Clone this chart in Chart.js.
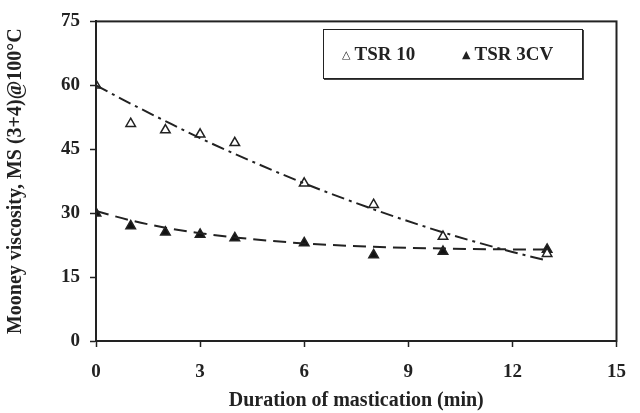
<!DOCTYPE html>
<html>
<head>
<meta charset="utf-8">
<script src="https://cdn.jsdelivr.net/npm/chart.js@4/dist/chart.umd.min.js"></script>
<style>
  html, body { margin: 0; padding: 0; background: #fff; }
  #wrap { position: relative; width: 640px; height: 413px; }
  #legend {
    position: absolute; left: 323px; top: 29px; width: 258px; height: 48px;
    border: 1.5px solid #222; box-shadow: 1px 1px 0 #444;
    font: bold 19px "Liberation Serif", serif; color: #222;
    display: flex; align-items: center;
  }
  #legend .item { position: absolute; white-space: nowrap; }
  #legend .mk { font: 11px "DejaVu Sans", sans-serif; vertical-align: 2px; margin-right: 4px; }
</style>
</head>
<body>
<div id="wrap">
  <canvas id="chart" width="640" height="413"></canvas>
  <div id="legend"></div>
</div>
<script>
'use strict';

// ── Data ───────────────────────────────────────────────────────────────────
const minutes = [0, 1, 2, 3, 4, 6, 8, 10, 13];
const tsr10 = [60, 51, 49.5, 48.5, 46.5, 37, 32, 24.5, 20.5];
const tsr3cv = [30, 27, 25.5, 25, 24.2, 23, 20.2, 21, 21.5];

// trend lines as traced on the figure
const trendMinutes = [0, 1, 2, 3, 4, 6, 8, 10, 12, 13];
const tsr10Trend = [60, 55.7, 51.6, 47.6, 43.9, 37, 30.9, 25.5, 20.9, 18.9];
const tsr3cvTrend = [30.5, 28.3, 26.6, 25.3, 24.3, 22.9, 22.1, 21.7, 21.5, 21.5];

const seriesNames = ['TSR 10', 'TSR 3CV'];
const xTicks = [0, 3, 6, 9, 12, 15];
const yTicks = [0, 15, 30, 45, 60, 75];

const INK = '#222';
const FONT = 'Liberation Serif';

const pts = (xs, ys) => xs.map((x, i) => ({ x: x, y: ys[i] }));

// frame round the plot area (top/right sides too)
const framePlugin = {
    id: 'frame',
    afterDraw(chart) {
        const a = chart.chartArea;
        const ctx = chart.ctx;
        ctx.save();
        ctx.strokeStyle = INK;
        ctx.lineWidth = 2;
        ctx.strokeRect(a.left, a.top, a.right - a.left, a.bottom - a.top);
        ctx.restore();
    },
};

function trendSet(data, dash) {
    return {
        type: 'line',
        data: data,
        borderColor: INK,
        borderWidth: 2,
        borderDash: dash,
        pointRadius: 0,
        tension: 0.4,
        cubicInterpolationMode: 'monotone',
        fill: false,
    };
}

function markerSet(label, data, fillColor) {
    return {
        type: 'scatter',
        label: label,
        data: data,
        pointStyle: 'triangle',
        pointRadius: 5.5,
        pointBackgroundColor: fillColor,
        pointBorderColor: INK,
        pointBorderWidth: 1.5,
    };
}

new Chart(document.getElementById('chart'), {
    data: {
        datasets: [
            trendSet(pts(trendMinutes, tsr10Trend), [13, 5, 3, 5]),
            trendSet(pts(trendMinutes, tsr3cvTrend), [13, 7]),
            markerSet(seriesNames[0], pts(minutes, tsr10), '#fff'),
            markerSet(seriesNames[1], pts(minutes, tsr3cv), '#111'),
        ],
    },
    options: {
        responsive: false,
        animation: false,
        layout: { padding: { top: 19, right: 11, left: 0, bottom: 0 } },
        plugins: { legend: { display: false }, tooltip: { enabled: false } },
        scales: {
            x: {
                type: 'linear', min: 0, max: 15,
                afterBuildTicks: s => { s.ticks = xTicks.map(v => ({ value: v })); },
                afterFit: s => { s.height = 72; },
                grid: { drawOnChartArea: false, color: INK, tickLength: 6, tickWidth: 1.5 },
                border: { color: INK, width: 2 },
                ticks: { color: INK, padding: 14, font: { family: FONT, size: 19, weight: 'bold' } },
                title: {
                    display: true, text: 'Duration of mastication (min)', color: INK,
                    padding: { top: 0, bottom: 0 },
                    font: { family: FONT, size: 20, weight: 'bold' },
                },
            },
            y: {
                type: 'linear', min: 0, max: 75,
                afterBuildTicks: s => { s.ticks = yTicks.map(v => ({ value: v })); },
                afterFit: s => { s.width = 96; },
                grid: { drawOnChartArea: false, color: INK, tickLength: 6, tickWidth: 1.5 },
                border: { color: INK, width: 2 },
                ticks: { color: INK, padding: 10, font: { family: FONT, size: 19, weight: 'bold' } },
                title: {
                    display: true, text: 'Mooney viscosity, MS (3+4)@100°C', color: INK,
                    padding: { top: 4, bottom: 0 },
                    font: { family: FONT, size: 20, weight: 'bold' },
                },
            },
        },
    },
    plugins: [framePlugin],
});

// legend box drawn inside the plot like the original
const legend = document.getElementById('legend');
const marks = ['△', '▲'];
const offsets = [18, 138];
seriesNames.forEach((name, i) => {
    const el = document.createElement('span');
    el.className = 'item';
    el.style.left = offsets[i] + 'px';
    el.innerHTML = '<span class="mk">' + marks[i] + '</span>' + name;
    legend.appendChild(el);
});
</script>
</body>
</html>
